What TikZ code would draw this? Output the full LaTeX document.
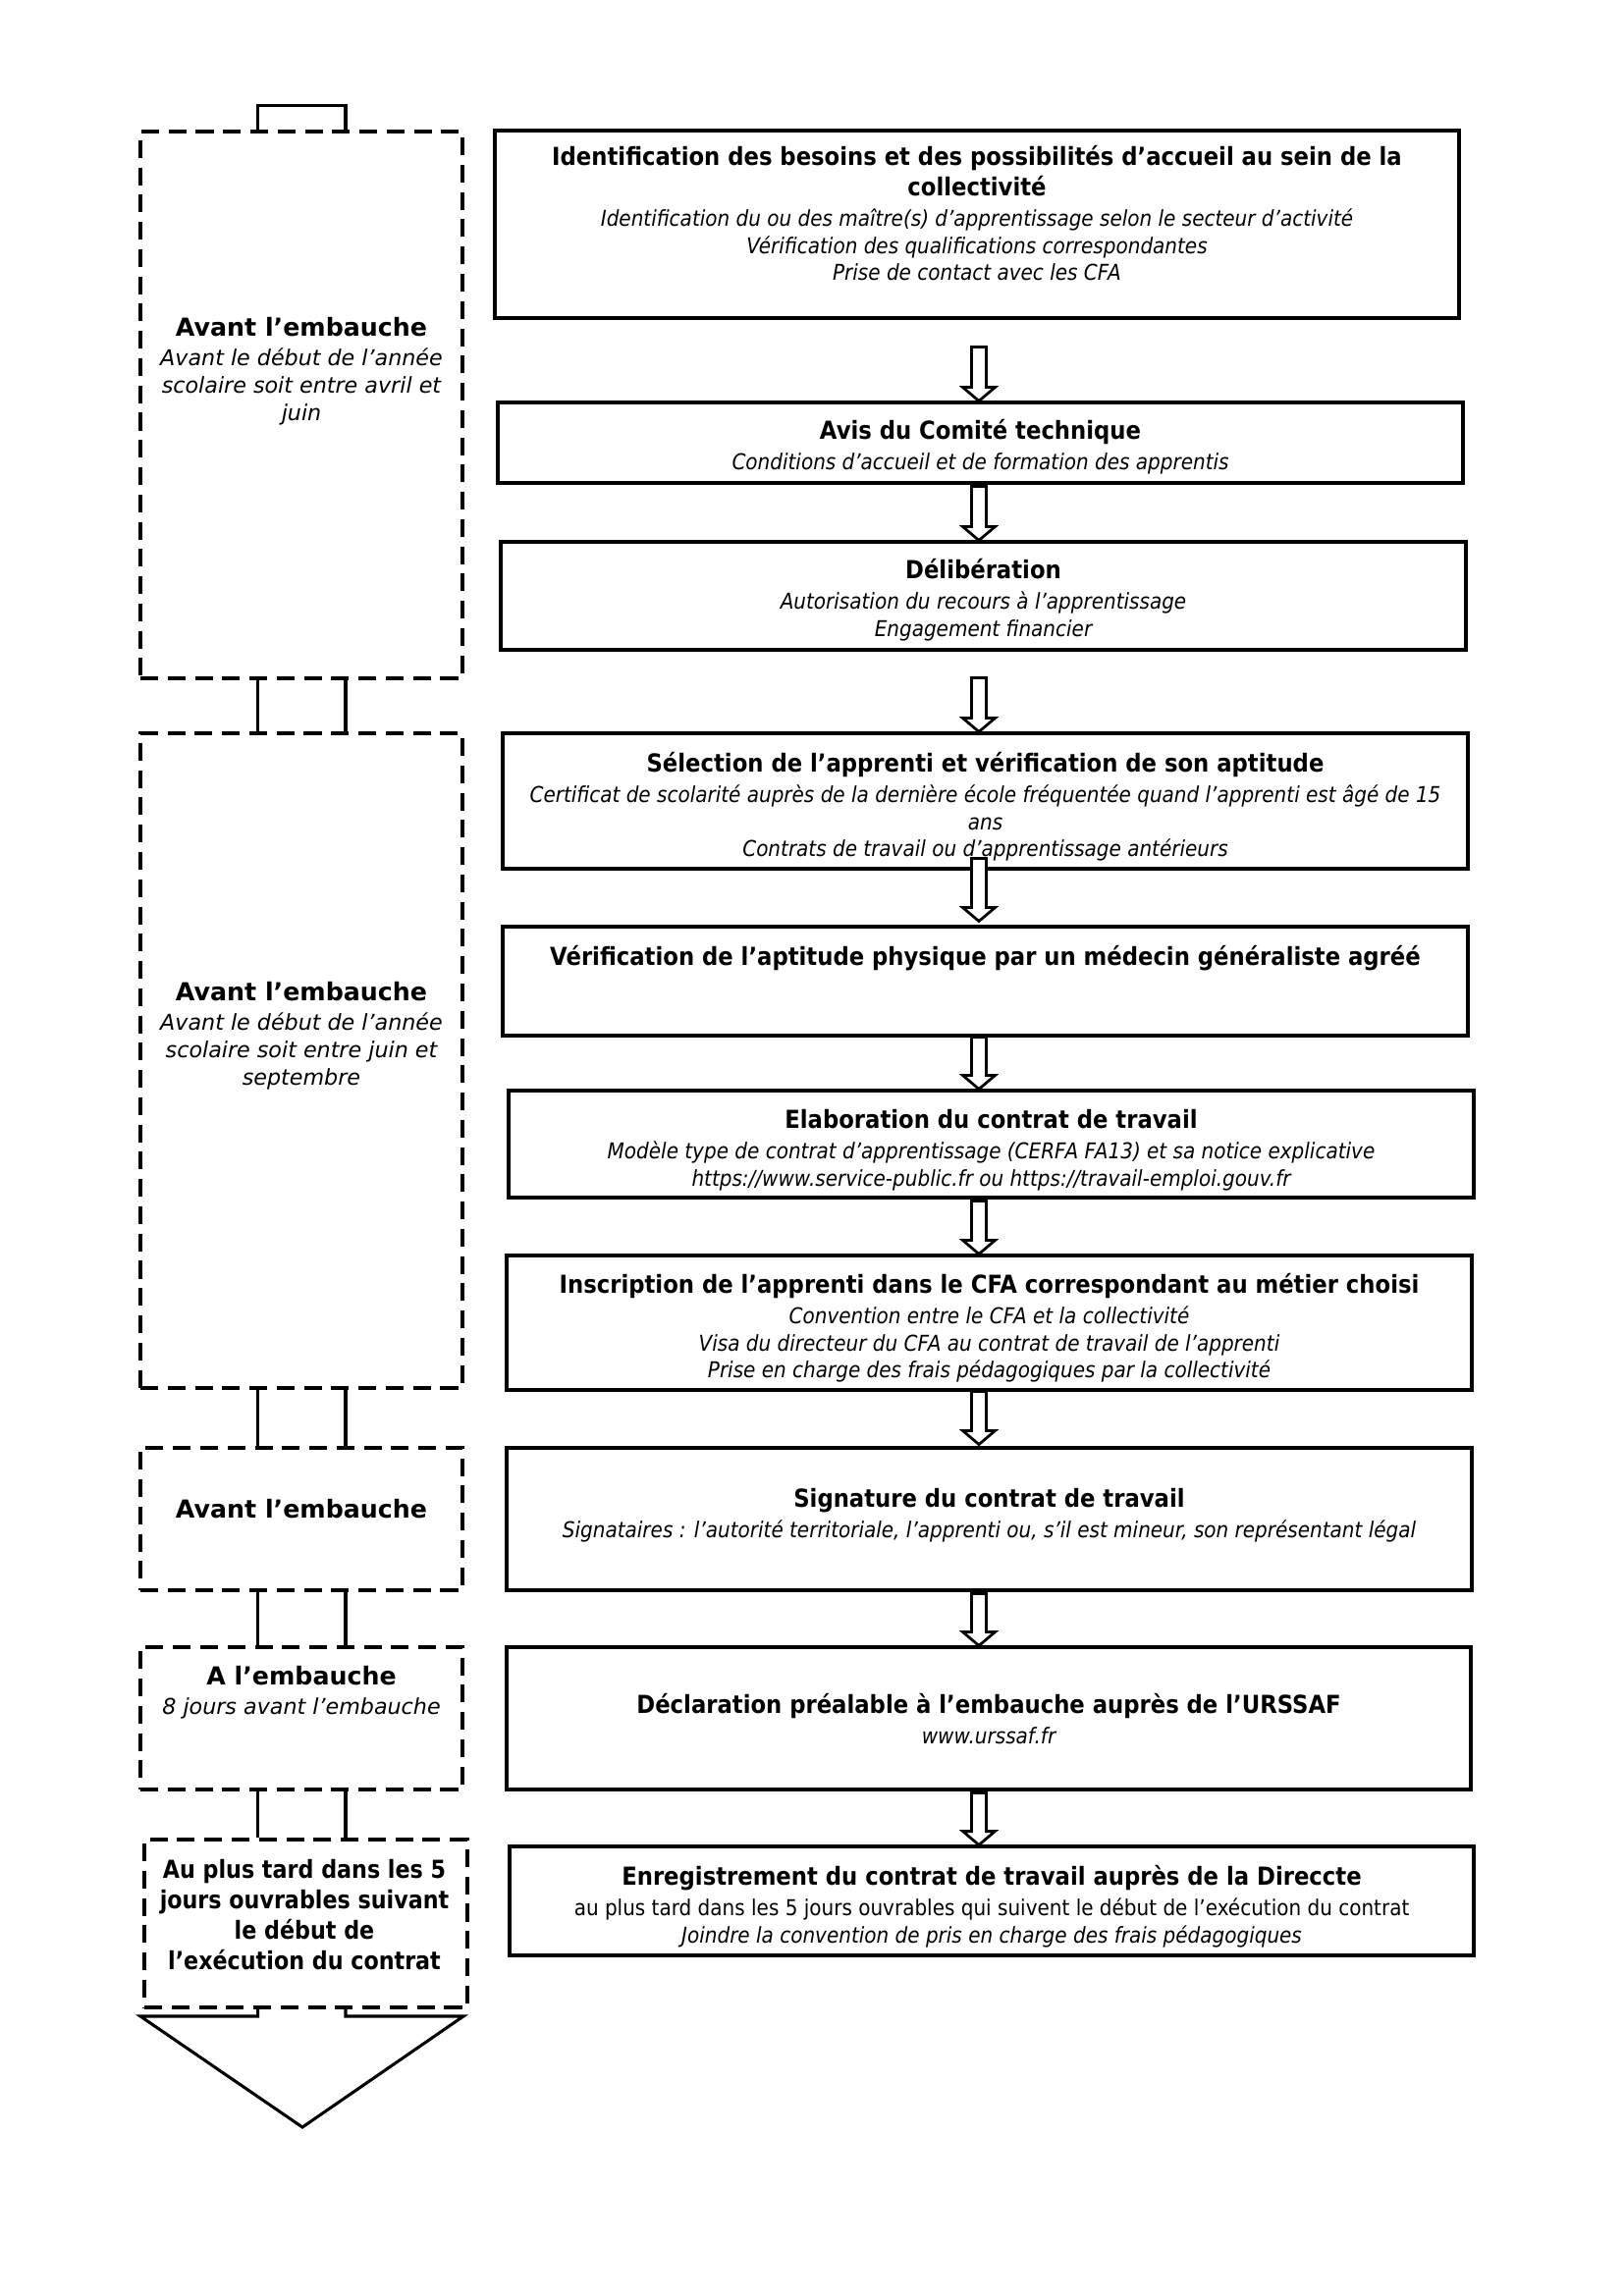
\documentclass[tikz,border=0pt]{standalone}
\usepackage{fontspec}
\setmainfont{DejaVu Sans}
\newfontfamily\rfont[FakeStretch=0.9]{DejaVu Sans}
\newfontfamily\nfont[FakeStretch=0.88]{DejaVu Sans}
\usetikzlibrary{calc,fit}
\newcommand\Ttl[1]{{\fontsize{9.1}{11.2}\selectfont\bfseries #1}}
\newcommand\Itl[1]{{\itshape #1}}
\newcommand\barrow[2]{\draw[blockarr] let \p1=#1, \p2=#2 in
  (\x1-2.7pt,\y1) -- (\x1+2.7pt,\y1) -- (\x1+2.7pt,\y2+5pt) -- (\x1+5.9pt,\y2+5pt)
  -- (\x1,\y2) -- (\x1-5.9pt,\y2+5pt) -- (\x1-2.7pt,\y2+5pt) -- cycle;}
\begin{document}
\begin{tikzpicture}[x=0.360121pt,y=-0.360121pt,
  rbox/.style={draw, line width=1.1pt, inner sep=0pt},
  dbox/.style={draw, line width=1.2pt, dash pattern=on 6.5pt off 3.5pt, inner sep=0pt},
  band/.style={line width=1.1pt, line join=miter},
  blockarr/.style={draw, fill=white, line width=1pt, line join=miter},
  rtext/.style={font=\rfont\fontsize{8}{9.9}\selectfont, align=center, inner sep=0pt, anchor=north},
  ltext/.style={font=\fontsize{8}{10.1}\selectfont, align=center, inner sep=0pt, anchor=north}]
\fill[white] (0,0) rectangle (1653,2339);
\useasboundingbox (0,0) rectangle (1653,2339);

% ---- left column: dashed period boxes ----
\node[dbox, fit={(143,134)(471,691)}] (A1) {};
\node[dbox, fit={(143,747)(471,1414)}] (A2) {};
\node[dbox, fit={(143,1475)(471,1620)}] (A3) {};
\node[dbox, fit={(143,1678)(471,1823)}] (A4) {};
\node[dbox, fit={(147,1874)(476,2045)}] (A5) {};
\coordinate (bl) at (262.6,0);
\coordinate (br) at (352,0);
\coordinate (ftl) at (143,2054);
\coordinate (ftr) at (472,2054);
\coordinate (ftip) at (308,2167);

\draw[band] (A1.north -| bl) -- ($(A1.north -| bl)+(0,-25)$) -- ($(A1.north -| br)+(0,-25)$) -- (A1.north -| br);
\draw[band] (A1.south -| bl) -- (A2.north -| bl);
\draw[band] (A1.south -| br) -- (A2.north -| br);
\draw[band] (A2.south -| bl) -- (A3.north -| bl);
\draw[band] (A2.south -| br) -- (A3.north -| br);
\draw[band] (A3.south -| bl) -- (A4.north -| bl);
\draw[band] (A3.south -| br) -- (A4.north -| br);
\draw[band] (A4.south -| bl) -- (A5.north -| bl);
\draw[band] (A4.south -| br) -- (A5.north -| br);
\draw[band] (A5.south -| bl) -- (ftl -| bl) -- (ftl) -- (ftip) -- (ftr) -- (ftr -| br) -- (A5.south -| br);

\node[ltext] (L1) at (307,323) {\Ttl{Avant l’embauche}\\[0.7pt]\Itl{Avant le début de l’année}\\\Itl{scolaire soit entre avril et}\\\Itl{juin}};
\node[ltext] (L2) at (307,1000) {\Ttl{Avant l’embauche}\\[0.7pt]\Itl{Avant le début de l’année}\\\Itl{scolaire soit entre juin et}\\\Itl{septembre}};
\node[ltext] (L3) at (307,1527) {\Ttl{Avant l’embauche}};
\node[ltext] (L4) at (307,1697) {\Ttl{A l’embauche}\\[0.7pt]\Itl{8 jours avant l’embauche}};
\node[ltext, font=\nfont\fontsize{9.1}{11.1}\selectfont\bfseries] (L5) at (310,1894) {Au plus tard dans les 5\\jours ouvrables suivant\\le début de\\l’exécution du contrat};

% ---- right column: steps ----
\node[rbox, fit={(504,133)(1486,324)}] (B1) {};
\node[rbox, fit={(507,410)(1490,492)}] (B2) {};
\node[rbox, fit={(510,552)(1493,662)}] (B3) {};
\node[rbox, fit={(512,747)(1495,885)}] (B4) {};
\node[rbox, fit={(512,944)(1495,1055)}] (B5) {};
\node[rbox, fit={(518,1111)(1501,1220)}] (B6) {};
\node[rbox, fit={(516,1279)(1499,1416)}] (B7) {};
\node[rbox, fit={(516,1475)(1499,1620)}] (B8) {};
\node[rbox, fit={(516,1678)(1498,1823)}] (B9) {};
\node[rbox, fit={(519,1881)(1501,1992)}] (B10) {};

\coordinate (ax) at (997,0);
\barrow{($(B1.south -| ax)+(0,28)$)}{(B2.north -| ax)}
\barrow{($(B2.south -| ax)+(0,2)$)}{(B3.north -| ax)}
\barrow{($(B3.south -| ax)+(0,27)$)}{(B4.north -| ax)}
\barrow{($(B4.south -| ax)+(0,-12)$)}{($(B5.north -| ax)+(0,-4)$)}
\barrow{(B5.south -| ax)}{(B6.north -| ax)}
\barrow{($(B6.south -| ax)+(0,2)$)}{(B7.north -| ax)}
\barrow{(B7.south -| ax)}{($(B8.north -| ax)+(0,-2)$)}
\barrow{($(B8.south -| ax)+(0,2)$)}{(B9.north -| ax)}
\barrow{($(B9.south -| ax)+(0,2)$)}{(B10.north -| ax)}

\node[rtext] (T1) at (B1.north |- 0,148) {\Ttl{Identification des besoins et des possibilités d’accueil au sein de la}\\[1.3pt]\Ttl{collectivité}\\[1.3pt]\Itl{Identification du ou des maître(s) d’apprentissage selon le secteur d’activité}\\\Itl{Vérification des qualifications correspondantes}\\\Itl{Prise de contact avec les CFA}};
\node[rtext] (T2) at (B2.north |- 0,427) {\Ttl{Avis du Comité technique}\\[1.3pt]\Itl{Conditions d’accueil et de formation des apprentis}};
\node[rtext] (T3) at (B3.north |- 0,569) {\Ttl{Délibération}\\[1.3pt]\Itl{Autorisation du recours à l’apprentissage}\\\Itl{Engagement financier}};
\node[rtext] (T4) at (B4.north |- 0,766) {\Ttl{Sélection de l’apprenti et vérification de son aptitude}\\[1.3pt]\Itl{Certificat de scolarité auprès de la dernière école fréquentée quand l’apprenti est âgé de 15}\\\Itl{ans}\\\Itl{Contrats de travail ou d’apprentissage antérieurs}};
\node[rtext] (T5) at (B5.north |- 0,963) {\Ttl{Vérification de l’aptitude physique par un médecin généraliste agréé}};
\node[rtext] (T6) at (B6.north |- 0,1130) {\Ttl{Elaboration du contrat de travail}\\[1.3pt]\Itl{Modèle type de contrat d’apprentissage (CERFA FA13) et sa notice explicative}\\\Itl{https://www.service-public.fr ou https://travail-emploi.gouv.fr}};
\node[rtext] (T7) at (B7.north |- 0,1297) {\Ttl{Inscription de l’apprenti dans le CFA correspondant au métier choisi}\\[1.3pt]\Itl{Convention entre le CFA et la collectivité}\\\Itl{Visa du directeur du CFA au contrat de travail de l’apprenti}\\\Itl{Prise en charge des frais pédagogiques par la collectivité}};
\node[rtext] (T8) at (B8.north |- 0,1516) {\Ttl{Signature du contrat de travail}\\[1.3pt]\Itl{Signataires : l’autorité territoriale, l’apprenti ou, s’il est mineur, son représentant légal}};
\node[rtext] (T9) at (B9.north |- 0,1725) {\Ttl{Déclaration préalable à l’embauche auprès de l’URSSAF}\\[1.3pt]\Itl{www.urssaf.fr}};
\node[rtext] (T10) at (B10.north |- 0,1900) {\Ttl{Enregistrement du contrat de travail auprès de la Direccte}\\[1.3pt]au plus tard dans les 5 jours ouvrables qui suivent le début de l’exécution du contrat\\\Itl{Joindre la convention de pris en charge des frais pédagogiques}};
\end{tikzpicture}
\end{document}
